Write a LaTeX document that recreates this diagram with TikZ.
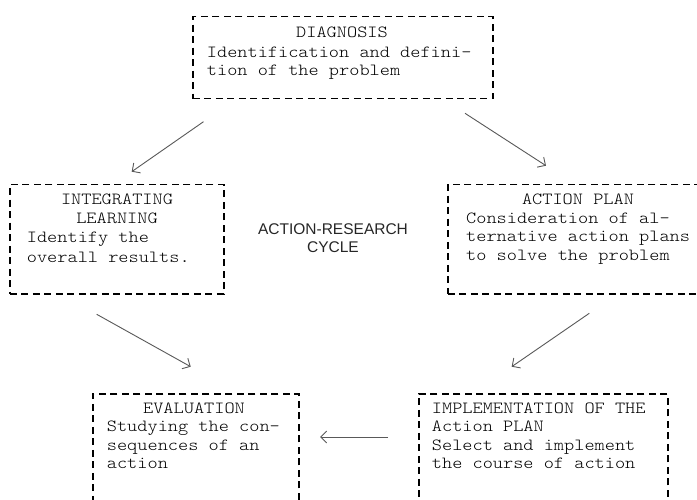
\documentclass[tikz,border=0pt]{standalone}
\usepackage{fontspec}
\usetikzlibrary{arrows.meta}
\newfontfamily\boxfont{lmmonolt10-regular}[Extension=.otf, FakeStretch=1.14]
\newfontfamily\cyclefont{Liberation Sans}
\begin{document}
\begin{tikzpicture}[x=1pt,y=-1pt,
  stagebox/.style={draw=black, line width=1.5pt, dash pattern=on 7pt off 4.5pt,
    inner sep=0pt, anchor=north west},
  boxtext/.style={font=\boxfont\fontsize{17}{18.5}\selectfont, text=black,
    inner sep=0pt, anchor=base west},
  boxtitle/.style={boxtext, anchor=base},
  flow/.style={draw=black!65, line width=0.9pt,
    -{Straight Barb[length=6pt,width=12pt,line width=0.9pt]}},
  centre/.style={font=\cyclefont\fontsize{15.5}{18}\selectfont, text=black!85,
    inner sep=0pt, anchor=base}]
\useasboundingbox (0,0) rectangle (697,500);
\clip (0,0) rectangle (697,500);
\fill[white] (0,0) rectangle (697,500);

% stage boxes
\node[stagebox, minimum width=300pt, minimum height=82pt]  (diag)   at (192,16)  {};
\node[stagebox, minimum width=214pt, minimum height=109pt] (integ)  at (9,184)   {};
\node[stagebox, minimum width=262pt, minimum height=109pt] (plan)   at (447,184) {};
\node[stagebox, minimum width=206pt, minimum height=130pt] (eval)   at (92,393)  {};
\node[stagebox, minimum width=249pt, minimum height=130pt] (impl)   at (418,393) {};

% DIAGNOSIS
\node[boxtitle] (diagT)  at (342,37.3) {DIAGNOSIS};
\node[boxtext]  (diag1)  at (206.7,57.5) {Identification and defini-};
\node[boxtext]  (diag2)  at (206.7,76)   {tion of the problem};

% INTEGRATING LEARNING
\node[boxtitle] (integT1) at (117,204.3) {INTEGRATING};
\node[boxtitle] (integT2) at (117,223.8) {LEARNING};
\node[boxtext]  (integ1)  at (26.7,243) {Identify the};
\node[boxtext]  (integ2)  at (26.7,262) {overall results.};

% ACTION PLAN
\node[boxtitle] (planT) at (578,204.3) {ACTION PLAN};
\node[boxtext]  (plan1) at (466,223.3) {Consideration of al-};
\node[boxtext]  (plan2) at (466,242)   {ternative action plans};
\node[boxtext]  (plan3) at (466,261)   {to solve the problem};

% EVALUATION
\node[boxtitle] (evalT) at (194,413.3) {EVALUATION};
\node[boxtext]  (eval1) at (106.7,431.7) {Studying the con-};
\node[boxtext]  (eval2) at (106.7,450)   {sequences of an};
\node[boxtext]  (eval3) at (106.7,468.3) {action};

% IMPLEMENTATION
\node[boxtext] (implT1) at (431.7,413.3) {IMPLEMENTATION OF THE};
\node[boxtext] (implT2) at (431.7,431.7) {Action PLAN};
\node[boxtext] (impl1)  at (431.7,450)   {Select and implement};
\node[boxtext] (impl2)  at (431.7,468.3) {the course of action};

% centre label
\node[centre] (cyc1) at (333,235) {ACTION-RESEARCH};
\node[centre] (cyc2) at (333,253) {CYCLE};

% arrow end points
\coordinate (a1s) at (203.5,121.7);
\coordinate (a1e) at (131.7,171.7);
\coordinate (a2s) at (465,113.3);
\coordinate (a2e) at (546,165.7);
\coordinate (a3s) at (96.7,314.3);
\coordinate (a3e) at (190.7,366.7);
\coordinate (a4s) at (589.3,313.3);
\coordinate (a4e) at (511.7,366.7);
\coordinate (a5s) at (388,437);
\coordinate (a5e) at (320,437);

\draw[flow] (a1s) -- (a1e);
\draw[flow] (a2s) -- (a2e);
\draw[flow] (a3s) -- (a3e);
\draw[flow] (a4s) -- (a4e);
\draw[flow] (a5s) -- (a5e);
\end{tikzpicture}
\end{document}
